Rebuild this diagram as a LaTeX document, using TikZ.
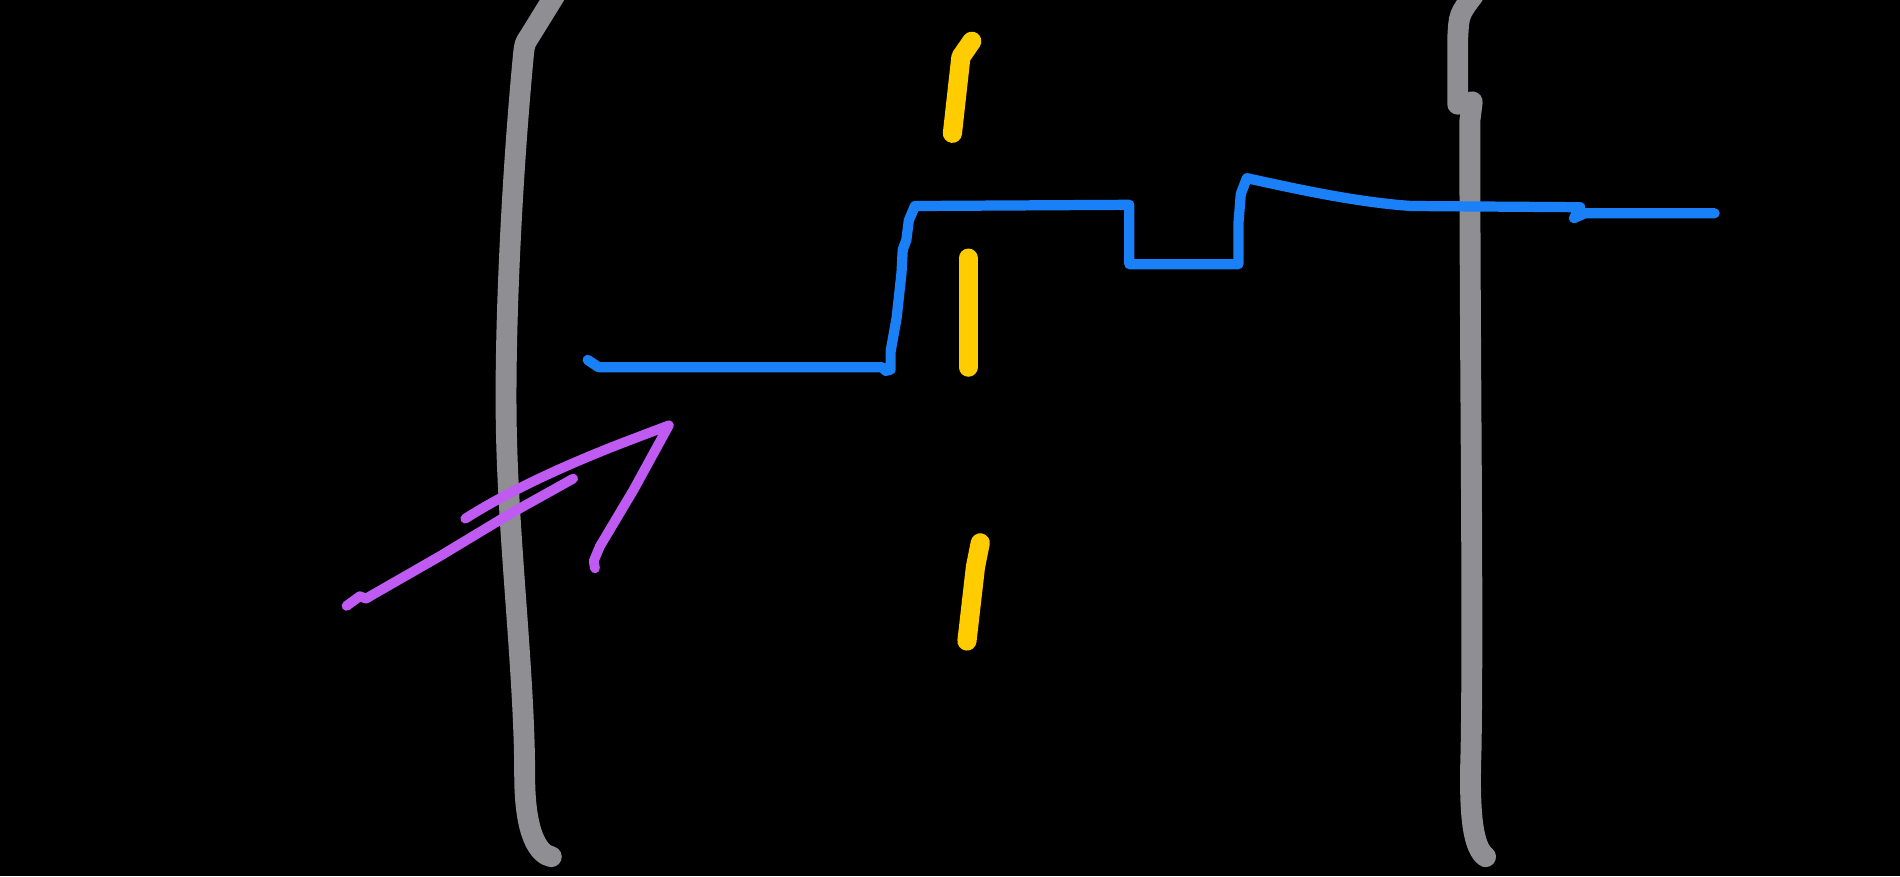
\documentclass[tikz,border=0pt]{standalone}
\definecolor{pgray}{HTML}{8E8E93}
\definecolor{pblue}{HTML}{1A80F8}
\definecolor{pyellow}{HTML}{FFCC00}
\definecolor{ppurple}{HTML}{BF5AF2}
\tikzset{
  grayline/.style={draw=pgray,line width=4.9pt,line cap=round,line join=round},
  blueline/.style={draw=pblue,line width=2.4pt,line cap=round,line join=round},
  yellowline/.style={draw=pyellow,line width=4.5pt,line cap=round,line join=round},
  purpleline/.style={draw=ppurple,line width=2.3pt,line cap=round,line join=round}
}
\begin{document}
\begin{tikzpicture}[x=0.01cm,y=-0.01cm]
\fill[black] (0,0) rectangle (1568,723);
\useasboundingbox (0,0) rectangle (1568,723);
% left gray bracket
\draw[grayline] (458,-4) -- (437,30) .. controls (433,36) .. (432,45)
  .. controls (422,150) and (416,280) .. (418,360)
  .. controls (420,450) and (433,560) .. (433,640)
  .. controls (433,690) and (445,705) .. (455,707);
% right gray bracket
\draw[grayline] (1216,-4) .. controls (1204,12) .. (1203,32) -- (1203,86);
\draw[grayline] (1215,84) -- (1213,100)
  .. controls (1213,300) and (1216,500) .. (1214,620)
  .. controls (1212,680) and (1217,700) .. (1226,707);
% yellow dashes
\draw[yellowline] (802,34) -- (793,47) -- (786,110);
\draw[yellowline] (799,213) -- (799,303);
\draw[yellowline] (809,448) -- (805,468) -- (798,529);
% blue profile
\draw[blueline] (485,297) -- (494,303) -- (728,303) -- (731,306) -- (735,305) -- (735,290) -- (740,262) -- (744,225) -- (745,206) -- (748,198) -- (750,182) -- (755,170) -- (932,169) -- (932,218) -- (1022,218) -- (1022,185) -- (1024,160) -- (1029,147)
  .. controls (1070,156) and (1120,167) .. (1165,170) -- (1304,171) -- (1299,180) -- (1308,176) -- (1415,176);
% purple arrow
\draw[purpleline] (286,500) -- (297,492) -- (302,494) -- (363,459) -- (421,424) -- (473,395);
\draw[purpleline] (384,428) .. controls (420,405) and (470,382) .. (523,362) -- (552,351) -- (523,404) -- (495,451) -- (490,463) -- (491,469);
\end{tikzpicture}
\end{document}
